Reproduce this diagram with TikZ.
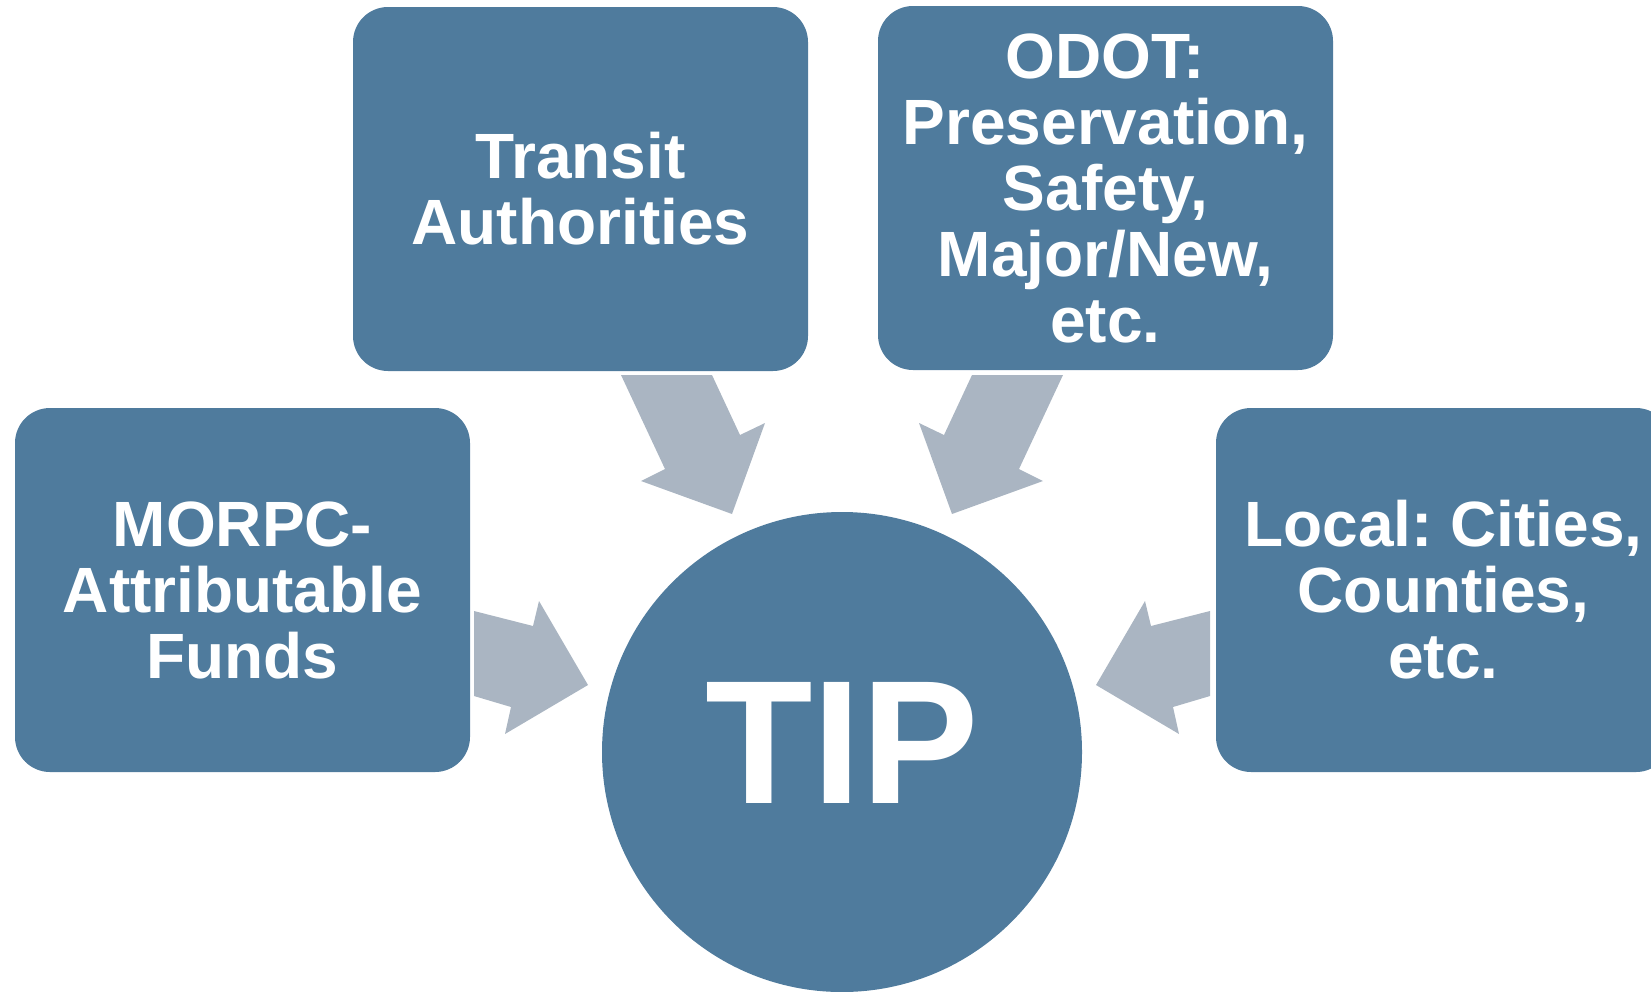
\documentclass[tikz,border=0pt]{standalone}
\usepackage{fontspec}
\setmainfont{Liberation Sans}
\frenchspacing
\definecolor{boxblue}{HTML}{4F7B9D}
\definecolor{arrowgray}{HTML}{AAB5C2}
\tikzset{
  srcbox/.style={draw=none, fill=boxblue, rounded corners=35pt, minimum width=455pt, minimum height=364pt,
    inner sep=0pt, text=white, align=center, font=\bfseries\fontsize{64}{66}\selectfont},
  tipcircle/.style={circle, fill=boxblue, minimum size=480pt, inner sep=0pt},
  tiplabel/.style={text=white, font=\bfseries\fontsize{176}{178}\selectfont, inner sep=0pt},
  blockarrow/.style={fill=arrowgray, draw=none}
}
\begin{document}
\begin{tikzpicture}[x=1pt,y=-1pt]
\useasboundingbox (0,0) rectangle (1651,991);
\clip (0,0) rectangle (1651,991);
% block arrows
\fill[blockarrow] (621,375) -- (712,375) -- (740,435) -- (765,423) -- (732,514) -- (641,481) -- (665,469) -- cycle;
\fill[blockarrow] (1063,375) -- (972,375) -- (944,435) -- (919,423) -- (952,514) -- (1043,481) -- (1019,469) -- cycle;
\fill[blockarrow] (474,611) -- (474,696) -- (511,707) -- (505,734) -- (588,685) -- (539,601) -- (533,626) -- cycle;
\fill[blockarrow] (1210,611) -- (1210,696) -- (1173,707) -- (1179,734) -- (1096,685) -- (1145,601) -- (1151,626) -- cycle;
% boxes
\node[srcbox] (transit) at (580.5,189) {Transit\\Authorities};
\node[srcbox] (odot) at (1105.5,188) {ODOT:\\Preservation,\\Safety,\\Major/New,\\etc.};
\node[srcbox] (morpc) at (242.5,590) {MORPC-\\Attributable\\Funds};
\node[srcbox] (local) at (1443.5,590) {Local: Cities,\\Counties,\\etc.};
% center
\node[tipcircle] (tip) at (842,752) {};
\node[tiplabel] (tiptext) at ([yshift=9pt]tip.center) {TIP};
\end{tikzpicture}
\end{document}
